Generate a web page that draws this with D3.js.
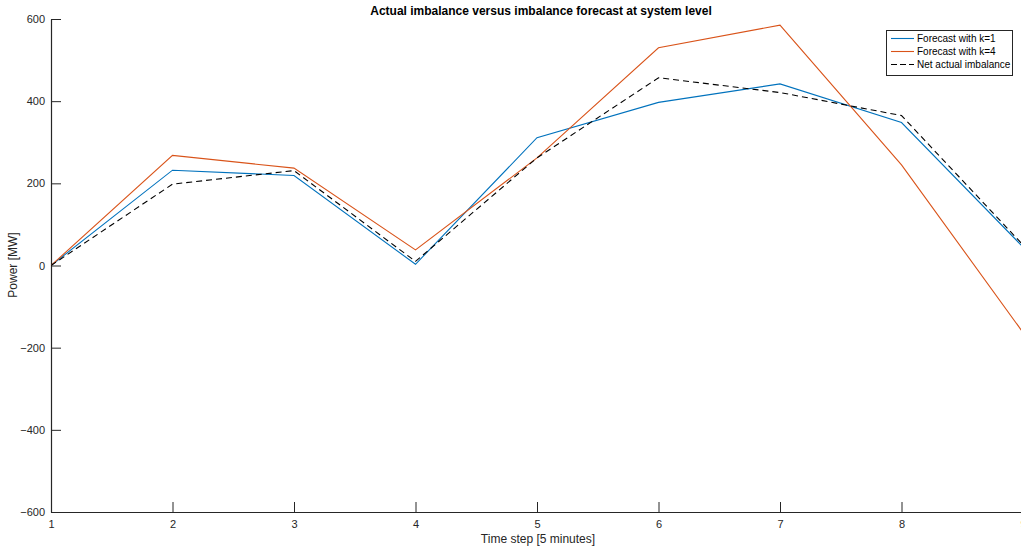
<!DOCTYPE html>
<html><head><meta charset="utf-8">
<script src="https://cdn.jsdelivr.net/npm/d3@7/dist/d3.min.js"></script>
<style>body{margin:0;background:#fff;overflow:hidden}svg{display:block}text{font-family:"Liberation Sans",Arial,Helvetica,sans-serif}</style>
</head><body>
<script>
const timeSteps = [1,2,3,4,5,6,7,8,9];
const forecastK1 = [0,232,219,3,311,397,442,348,45];
const forecastK4 = [0,268,237,38,262,530,585,245,-163];
const netActual  = [0,198,231,10,262,457,421,365,50];
const yTicks = [-600,-400,-200,0,200,400,600];
const seriesNames = ["Forecast with k=1","Forecast with k=4","Net actual imbalance"];

const W=1021,H=548;
const svg=d3.select("body").append("svg").attr("width",W).attr("height",H);
const x=d3.scaleLinear().domain([1,9]).range([51,1023]);
const y=d3.scaleLinear().domain([-600,600]).range([512,19]);
const axCol="#262626";

const xa=svg.append("g").attr("transform","translate(0,512)")
 .call(d3.axisBottom(x).tickValues(timeSteps).tickFormat(d3.format("d")).tickSizeInner(-10).tickSizeOuter(0).tickPadding(8));
const ya=svg.append("g").attr("transform","translate(51,0)")
 .call(d3.axisLeft(y).tickValues(yTicks).tickSizeInner(-10).tickSizeOuter(0).tickPadding(6));
[xa,ya].forEach(g=>{
 g.select(".domain").attr("stroke",axCol).attr("stroke-width",1.2);
 g.selectAll(".tick line").attr("stroke",axCol);
 g.selectAll(".tick text").attr("fill",axCol).attr("font-size",11);
});

const line=d3.line().x((d,i)=>x(timeSteps[i])).y(d=>y(d));
svg.append("clipPath").attr("id","c").append("rect").attr("x",51).attr("y",19).attr("width",980).attr("height",493);
const pg=svg.append("g").attr("clip-path","url(#c)");
pg.append("path").datum(forecastK1).attr("d",line).attr("fill","none").attr("stroke","#0072BD").attr("stroke-width",1.1);
pg.append("path").datum(forecastK4).attr("d",line).attr("fill","none").attr("stroke","#D95319").attr("stroke-width",1.1);
pg.append("path").datum(netActual).attr("d",line).attr("fill","none").attr("stroke","#000").attr("stroke-width",1.1).attr("stroke-dasharray","6,4");

svg.append("text").attr("x",541).attr("y",15).attr("text-anchor","middle").attr("font-weight","bold").attr("font-size",12).attr("fill","#000")
 .text("Actual imbalance versus imbalance forecast at system level");
svg.append("text").attr("x",538).attr("y",543).attr("text-anchor","middle").attr("font-size",12).attr("fill",axCol).text("Time step [5 minutes]");
svg.append("text").attr("transform","translate(17,265) rotate(-90)").attr("text-anchor","middle").attr("font-size",12).attr("fill",axCol).text("Power [MW]");

const lg=svg.append("g");
lg.append("rect").attr("x",886.5).attr("y",30.5).attr("width",126).attr("height",45).attr("fill","#fff").attr("stroke",axCol).attr("stroke-width",1);
const cols=["#0072BD","#D95319","#000"];
seriesNames.forEach((n,i)=>{
 const yy=38.5+i*13;
 lg.append("line").attr("x1",891).attr("x2",914).attr("y1",yy).attr("y2",yy).attr("stroke",cols[i]).attr("stroke-width",1.1)
  .attr("stroke-dasharray",i==2?"6,3":null);
 lg.append("text").attr("x",917).attr("y",yy+3.5).attr("font-size",10).attr("fill","#000").text(n);
});
</script>
</body></html>
